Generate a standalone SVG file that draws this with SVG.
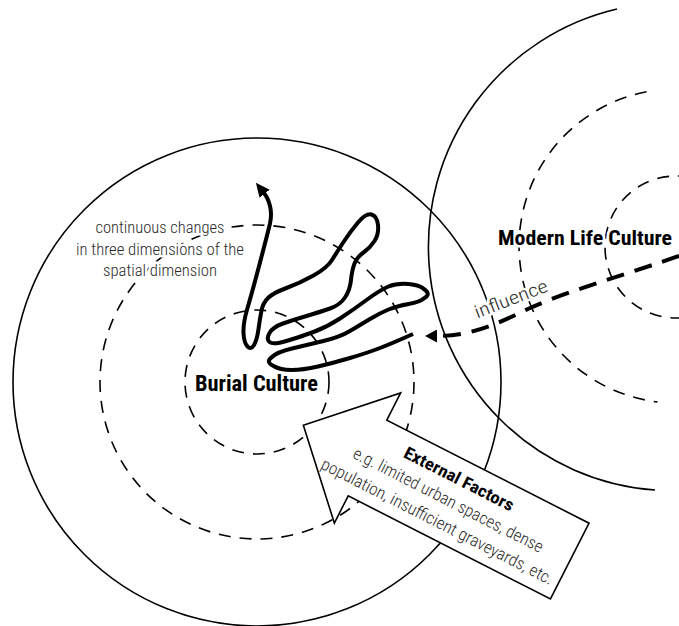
<svg xmlns="http://www.w3.org/2000/svg" width="679" height="626" viewBox="0 0 679 626">
<style>
.solid{fill:none;stroke:#000;stroke-width:1.6}
.dash{fill:none;stroke:#000;stroke-width:1.6;stroke-dasharray:12 9}
.thick{fill:none;stroke:#000;stroke-width:4;stroke-linecap:butt;stroke-linejoin:round}
.flow{fill:none;stroke:#000;stroke-width:4;stroke-dasharray:18 11}
.block{fill:#fff;stroke:#000;stroke-width:1.6;stroke-linejoin:miter}
text{font-family:"Roboto Condensed","Liberation Sans Narrow",Roboto,"Liberation Sans",sans-serif}
.lt{font-weight:300;fill:#2a2a2a}
.bd{font-weight:700;fill:#000}
.halo{stroke:#fff;stroke-width:5;stroke-linejoin:round;paint-order:stroke}
</style>
<defs>
<marker id="headA" markerUnits="userSpaceOnUse" markerWidth="14" markerHeight="13" viewBox="0 0 14 13" refX="1" refY="6.5" orient="auto"><path d="M0,0 L14,6.5 L0,13 z" fill="#000"/></marker>
<marker id="headB" markerUnits="userSpaceOnUse" markerWidth="12" markerHeight="13" viewBox="0 0 12 13" refX="0" refY="6.5" orient="auto"><path d="M0,0 L12,6.5 L0,13 z" fill="#000"/></marker>
</defs>
<rect width="679" height="626" fill="#fff"/>

<g id="burial-culture">
<circle class="solid" cx="257" cy="382" r="244"/>
<circle class="dash" cx="257" cy="382" r="157"/>
<circle class="dash" cx="257" cy="382" r="72"/>
</g>

<g id="modern-life-culture">
<path class="solid" d="M617,9 A244,244 0 0 0 655,490"/>
<path class="dash" d="M646.6,91.8 A157,157 0 0 0 657.4,401.9"/>
<circle class="dash" cx="676" cy="247" r="71"/>
</g>

<g id="spatial-change">
<path class="thick" marker-end="url(#headA)" d="M413,334 Q393,343 380,348 Q367,353 350,358 Q333,363 318,366.5 Q303,370 291.5,370 Q280,370 273.5,366 Q265,362 272,357 Q277,352 292,348.5 Q307,345 323.5,341 Q340,337 350,331 Q360,325 370,319 Q380,313 388.5,309.5 Q397,306 408.5,304 Q420,302 424.5,298 Q431,294 424.5,289.5 Q420,285 408.5,284 Q397,283 388.5,286.5 Q380,290 366.5,300 Q353,310 340,318.5 Q327,327 313.5,332 Q300,337 286.5,341 Q273,345 269.5,342 Q266,339 269.5,333 Q273,327 283,323.5 Q293,320 306.5,316 Q320,312 330,308.5 Q340,305 345,297.5 Q350,290 351,280 Q352,270 354.5,263.5 Q357,257 363.5,252.5 Q370,248 374.5,241 Q379,234 378,225 Q377,216 371.5,214.5 Q366,213 358,222.5 Q350,232 343.5,242 Q337,252 332,260 Q327,268 313.5,275.5 Q300,283 286.5,288 Q273,293 268,298 Q263,303 261.5,310.5 Q260,318 258.5,329 Q257,340 254,345 Q251,350 247.5,346.5 Q244,343 243.5,333 Q243,323 247.5,308 Q252,293 260,262.5 Q268,232 270,223.5 Q272,214 270,206 Q268,198 264,193"/>
<text class="lt halo" font-size="16" text-anchor="middle" x="160" y="233" textLength="129" lengthAdjust="spacingAndGlyphs">continuous changes</text>
<text class="lt halo" font-size="16" text-anchor="middle" x="160" y="255" textLength="168" lengthAdjust="spacingAndGlyphs">in three dimensions of the</text>
<text class="lt halo" font-size="16" text-anchor="middle" x="160" y="276" textLength="114" lengthAdjust="spacingAndGlyphs">spatial dimension</text>
</g>

<g id="burial-label">
<text class="bd halo" font-size="22" text-anchor="middle" x="256.5" y="391" textLength="123" lengthAdjust="spacingAndGlyphs">Burial Culture</text>
</g>

<g id="modern-label">
<text class="bd halo" font-size="21" text-anchor="middle" x="585" y="245" textLength="174" lengthAdjust="spacingAndGlyphs">Modern Life Culture</text>
</g>

<g id="connectors">
<path class="flow" marker-end="url(#headB)" d="M679,256 C640,270 570,290 530,308 C495,325 470,336 437,336"/>
<text class="lt halo" font-size="18" text-anchor="middle" transform="translate(511,299) rotate(-21)" x="0" y="6" textLength="77" lengthAdjust="spacingAndGlyphs">influence</text>
</g>

<g id="external-factors" transform="translate(367.5,458) rotate(27)">
<polygon class="block" points="-72,0 0,-73 0,-42.5 227,-42.5 227,42.5 0,42.5 0,73"/>
<text class="bd" font-size="17" text-anchor="middle" x="91" y="-17" textLength="121" lengthAdjust="spacingAndGlyphs">External Factors</text>
<text class="lt" font-size="17" text-anchor="middle" x="91" y="6.5" textLength="211" lengthAdjust="spacingAndGlyphs">e.g. limited urban spaces, dense</text>
<text class="lt" font-size="17" text-anchor="middle" x="91" y="30.5" textLength="258" lengthAdjust="spacingAndGlyphs">population, insufficient graveyards, etc.</text>
</g>
</svg>
